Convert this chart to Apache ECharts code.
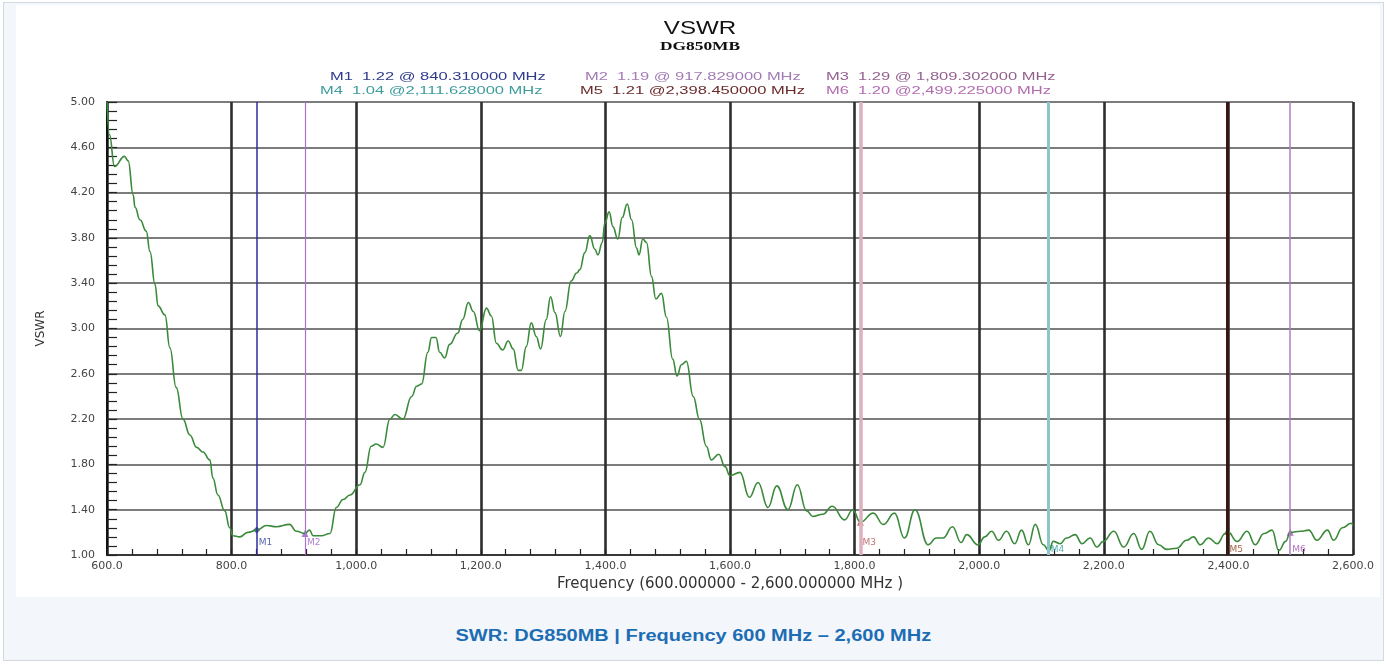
<!DOCTYPE html>
<html>
<head>
<meta charset="utf-8">
<script src="https://cdn.jsdelivr.net/npm/echarts@6/dist/echarts.min.js"></script>
<style>
  html, body { margin: 0; padding: 0; background: #fff; }
  #frame { position: absolute; left: 3px; top: 2px; width: 1381px; height: 659px; box-sizing: border-box; border: 1px solid #d3d9e1; background: #f3f6fa; }
  #chart { position: absolute; left: 16px; top: 5px; width: 1364px; height: 592px; background: #fff; }
  #caption { position: absolute; left: 0; top: 627px; width: 1387px; text-align: center; }
  #caption span { display: inline-block; transform: scaleX(1.25); font: bold 16px "Liberation Sans", Arial, sans-serif; color: #1c6db4; }
</style>
</head>
<body>
<div id="frame"></div>
<div id="chart"></div>
<div id="caption"><span>SWR: DG850MB | Frequency 600 MHz – 2,600 MHz</span></div>
<script>
// sweep (MHz)
const freqs = [
  600, 604, 612, 628, 634, 642, 645, 653, 663, 669, 677, 682, 693, 701, 711, 722, 733, 744, 754, 765,
  770, 778, 789, 797, 802, 813, 826, 840.3, 856, 872, 893, 904, 917.8, 925, 931, 944, 958, 968, 979, 990,
  1006, 1014, 1024, 1032, 1043, 1054, 1062, 1075, 1089, 1097, 1105, 1115, 1121, 1128, 1134, 1142, 1150, 1163, 1171, 1180,
  1188, 1198, 1209, 1217, 1225, 1235, 1244, 1252, 1260, 1265, 1273, 1281, 1289, 1296, 1305, 1312, 1319, 1328, 1335, 1345,
  1354, 1359, 1367, 1375, 1383, 1388, 1395, 1399, 1406, 1412, 1420, 1427, 1435, 1442, 1450, 1454, 1460, 1466, 1474, 1481,
  1490, 1498, 1508, 1515, 1522, 1530, 1541, 1551, 1562, 1570, 1582, 1592, 1600, 1616, 1631, 1645, 1661, 1675, 1693, 1708,
  1723, 1733, 1749, 1764, 1784, 1797, 1809.3, 1830, 1846, 1864, 1880, 1897, 1918, 1931, 1942, 1957, 1971, 1980, 1998, 2009,
  2020, 2031, 2044, 2057, 2068, 2079, 2090, 2103, 2111.6, 2119, 2130, 2140, 2154, 2165, 2178, 2189, 2199, 2216, 2232, 2248,
  2261, 2274, 2288, 2301, 2317, 2333, 2344, 2355, 2368, 2382, 2395, 2398.5, 2414, 2430, 2443, 2457, 2470, 2481, 2492, 2499.2,
  2516, 2529, 2542, 2559, 2569, 2583, 2597, 2600
];
const vswr = [
  5.00, 4.71, 4.43, 4.52, 4.48, 4.18, 4.07, 3.96, 3.86, 3.68, 3.39, 3.20, 3.12, 2.83, 2.48, 2.20, 2.06, 1.95, 1.91, 1.84,
  1.68, 1.53, 1.39, 1.24, 1.17, 1.16, 1.20, 1.22, 1.26, 1.25, 1.27, 1.21, 1.19, 1.22, 1.17, 1.17, 1.19, 1.42, 1.49, 1.53,
  1.62, 1.73, 1.96, 1.98, 1.95, 2.20, 2.24, 2.20, 2.40, 2.49, 2.51, 2.79, 2.92, 2.92, 2.79, 2.74, 2.86, 2.96, 3.08, 3.23,
  3.15, 2.98, 3.18, 3.11, 2.87, 2.81, 2.89, 2.82, 2.63, 2.63, 2.84, 3.05, 2.93, 2.82, 3.08, 3.28, 3.14, 2.93, 3.15, 3.42,
  3.49, 3.52, 3.67, 3.82, 3.70, 3.65, 3.76, 3.93, 4.03, 3.90, 3.79, 3.98, 4.10, 3.96, 3.71, 3.65, 3.79, 3.76, 3.46, 3.26,
  3.31, 3.10, 2.73, 2.58, 2.68, 2.71, 2.40, 2.20, 1.96, 1.84, 1.89, 1.78, 1.70, 1.73, 1.51, 1.64, 1.42, 1.61, 1.40, 1.62,
  1.39, 1.34, 1.36, 1.43, 1.31, 1.40, 1.29, 1.37, 1.27, 1.37, 1.15, 1.40, 1.09, 1.15, 1.15, 1.25, 1.11, 1.18, 1.09, 1.16,
  1.21, 1.13, 1.21, 1.10, 1.22, 1.09, 1.27, 1.09, 1.04, 1.12, 1.10, 1.15, 1.18, 1.10, 1.15, 1.07, 1.12, 1.21, 1.07, 1.19,
  1.05, 1.21, 1.09, 1.05, 1.06, 1.13, 1.16, 1.09, 1.15, 1.10, 1.19, 1.21, 1.12, 1.21, 1.09, 1.19, 1.22, 1.04, 1.12, 1.20,
  1.21, 1.22, 1.13, 1.22, 1.13, 1.24, 1.28, 1.26
];

// markers
const markerNames = ['M1', 'M2', 'M3', 'M4', 'M5', 'M6'];
const markerFreqs = [840.31, 917.829, 1809.302, 2111.628, 2398.45, 2499.225];
const markerValues = [1.22, 1.19, 1.29, 1.04, 1.21, 1.20];

const lineColors = ['#2c2c9c', '#a872c8', '#ddb0bd', '#8cc6c9', '#3b1414', '#b27cc8'];
const lineWidths = [1.5, 1.2, 3.5, 3, 3, 1.5];
const textColors = ['#2e3a8c', '#a27ab5', '#92608e', '#3e9c9c', '#6b2a2a', '#b36bb0'];
const labelColors = ['#2e3a9a', '#9a5fc0', '#b05050', '#2a9a9a', '#8a3a10', '#a050b0'];
const symbols = ['diamond', 'triangle', 'triangle', 'triangle', 'triangle', 'triangle'];

const fmtFreq = f => f.toLocaleString('en-US', { minimumFractionDigits: 6, maximumFractionDigits: 6 });
const readout = (i, gap) => `${markerNames[i]}  ${markerValues[i].toFixed(2)} @${gap}${fmtFreq(markerFreqs[i])} MHz`;

const chart = echarts.init(document.getElementById('chart'));

// readout rows above the plot, each entry placed at its own x (chart-div coords)
const readoutX = [314, 569, 810, 304, 564, 810];
const readoutTexts = markerNames.map((n, i) => ({
  type: 'text',
  x: readoutX[i],
  y: i < 3 ? 72 : 86,
  scaleX: 1.5,
  style: {
    text: readout(i, i < 3 ? ' ' : ''),
    font: '11px "Liberation Sans", Arial, sans-serif',
    fill: textColors[i],
    align: 'left',
    verticalAlign: 'middle'
  }
}));

const option = {
  animation: false,
  backgroundColor: '#fff',
  graphic: [
    {
      type: 'text', x: 684, y: 24, scaleX: 1.27,
      style: { text: 'VSWR', font: '19px "Liberation Sans", Arial, sans-serif', fill: '#111', align: 'center', verticalAlign: 'middle' }
    },
    {
      type: 'text', x: 684, y: 42, scaleX: 1.45,
      style: { text: 'DG850MB', font: 'bold 12px "Liberation Serif", "Times New Roman", serif', fill: '#111', align: 'center', verticalAlign: 'middle' }
    },
    ...readoutTexts
  ],
  grid: { left: 91, right: 27, top: 97, bottom: 42 },
  xAxis: {
    type: 'value',
    min: 600,
    max: 2600,
    interval: 200,
    name: 'Frequency (600.000000 - 2,600.000000 MHz )',
    nameLocation: 'middle',
    nameGap: 20,
    nameTextStyle: { color: '#333', fontSize: 15, fontFamily: 'DejaVu Sans' },
    axisLine: { show: true, lineStyle: { color: '#222', width: 1.5 } },
    axisTick: { show: true, inside: true, length: 6, lineStyle: { color: '#222', width: 1.2 } },
    minorTick: { show: true, splitNumber: 5, length: 6, lineStyle: { color: '#222', width: 1.2 } },
    splitLine: { show: true, lineStyle: { color: '#2e2e2e', width: 2.6 } },
    axisLabel: {
      color: '#444', fontSize: 11, fontFamily: 'DejaVu Sans', margin: 6,
      formatter: v => v.toLocaleString('en-US', { minimumFractionDigits: 1, maximumFractionDigits: 1 })
    }
  },
  yAxis: {
    type: 'value',
    min: 1,
    max: 5,
    interval: 0.4,
    name: 'VSWR',
    nameLocation: 'middle',
    nameGap: 60,
    nameTextStyle: { color: '#333', fontSize: 12, fontFamily: 'DejaVu Sans' },
    axisLine: { show: true, lineStyle: { color: '#111', width: 2 } },
    axisTick: { show: true, inside: true, length: 10, lineStyle: { color: '#222', width: 1.2 } },
    minorTick: { show: true, splitNumber: 5, length: 10, lineStyle: { color: '#222', width: 1.2 } },
    splitLine: { show: true, lineStyle: { color: '#505050', width: 1.6 } },
    axisLabel: { color: '#444', fontSize: 11, fontFamily: 'DejaVu Sans', margin: 12, formatter: v => v.toFixed(2) }
  },
  series: [
    {
      // marker points + their vertical cursor lines
      name: 'markers',
      type: 'scatter',
      z: 2,
      symbolSize: 7,
      data: markerFreqs.map((f, i) => ({
        value: [f, markerValues[i]],
        symbol: symbols[i],
        symbolRotate: i === 3 ? 180 : 0,
        itemStyle: { color: labelColors[i] }
      })),
      markLine: {
        silent: true,
        symbol: ['none', 'none'],
        label: { show: false },
        data: markerFreqs.map((f, i) => ({
          xAxis: f,
          lineStyle: { color: lineColors[i], width: lineWidths[i], type: 'solid' }
        }))
      }
    },
    {
      name: 'VSWR',
      type: 'line',
      z: 3,
      showSymbol: false,
      smooth: 0.45,
      smoothMonotone: 'x',
      lineStyle: { color: '#3b8a3b', width: 1.6 },
      data: freqs.map((f, i) => [f, vswr[i]])
    },
    {
      // M1..M6 tags near the baseline
      name: 'marker labels',
      type: 'scatter',
      z: 4,
      symbolSize: 0,
      data: markerFreqs.map((f, i) => ({
        value: [f, 1],
        label: {
          show: true,
          formatter: markerNames[i],
          position: 'right',
          distance: 2,
          offset: [0, i < 3 ? -12 : -5],
          color: labelColors[i],
          fontSize: 9,
          fontFamily: 'DejaVu Sans'
        }
      }))
    }
  ]
};

chart.setOption(option);
</script>
</body>
</html>
